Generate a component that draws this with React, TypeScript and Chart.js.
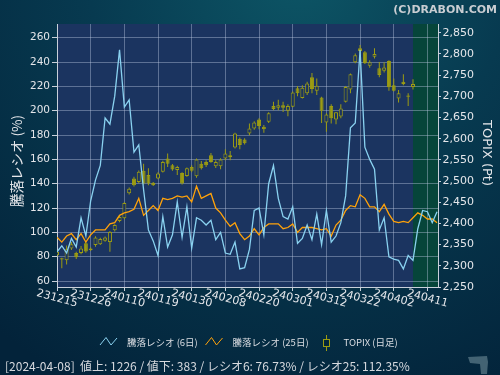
import React, { useEffect, useRef } from "react";
import { Chart, registerables } from "chart.js";

Chart.register(...registerables);

// ---- data ----
const tickDates = ["231215", "231226", "240110", "240119", "240130", "240208", "240220", "240301", "240312", "240322", "240402", "240411"];
const leftTicks = [60, 80, 100, 120, 140, 160, 180, 200, 220, 240, 260];
const rightTicks = [2250, 2300, 2350, 2400, 2450, 2500, 2550, 2600, 2650, 2700, 2750, 2800, 2850];

const ratio6 = [
  84, 89, 83, 95, 88, 112, 97, 126, 143, 155,
  194, 189, 212, 250, 203, 209, 166, 172, 135, 102,
  93, 81, 113, 88, 98, 125, 96, 121, 87, 112,
  110, 106, 110, 94, 100, 83, 82, 92, 70, 71,
  86, 118, 120, 98, 140, 155, 128, 113, 111, 121,
  91, 95, 106, 94, 115, 90, 118, 92, 97, 108,
  130, 186, 190, 250, 170, 160, 152, 102, 112, 80,
  78, 77, 70, 81, 77, 103, 118, 117, 108, 117,
];

const ratio25 = [
  96, 92, 97, 99, 94, 99, 92, 98, 102, 102,
  102, 107, 108, 114, 116, 117, 119, 128, 114, 118,
  122, 118, 128, 127, 128, 130, 129, 130, 125, 138,
  128, 130, 132, 120, 116, 110, 105, 108, 99, 94,
  97, 103, 98, 104, 107, 107, 107, 103, 104, 107,
  100, 104, 104, 104, 103, 102, 103, 97, 106, 110,
  118, 122, 121, 131, 128, 121, 121, 117, 123, 115,
  109, 108, 109, 108, 112, 116, 114, 111, 111, 108,
];

const topixOpen = [
  2325, 2318, 2313, 2341, 2330, 2330, 2353, 2341, 2349, 2351,
  2359, 2356, 2384, 2406, 2412, 2471, 2506, 2498, 2524, 2514,
  2496, 2506, 2522, 2553, 2537, 2526, 2519, 2512, 2533, 2511,
  2541, 2545, 2561, 2535, 2535, 2553, 2561, 2579, 2600, 2598,
  2612, 2624, 2645, 2628, 2640, 2677, 2673, 2679, 2666, 2675,
  2719, 2696, 2707, 2745, 2713, 2697, 2638, 2677, 2645, 2652,
  2687, 2716, 2780, 2813, 2804, 2772, 2793, 2766, 2760, 2783,
  2726, 2695, 2734, 2702, 2722,
];
const topixHigh = [
  2336, 2319, 2348, 2356, 2333, 2347, 2356, 2343, 2370, 2366,
  2369, 2382, 2398, 2418, 2450, 2485, 2510, 2525, 2541, 2530,
  2498, 2521, 2548, 2565, 2540, 2536, 2521, 2532, 2537, 2553,
  2547, 2549, 2566, 2549, 2554, 2575, 2571, 2614, 2603, 2601,
  2636, 2641, 2648, 2632, 2662, 2687, 2692, 2687, 2681, 2711,
  2724, 2726, 2734, 2755, 2742, 2699, 2660, 2681, 2663, 2681,
  2724, 2754, 2801, 2821, 2807, 2785, 2813, 2781, 2780, 2785,
  2742, 2715, 2752, 2707, 2740,
];
const topixLow = [
  2322, 2294, 2303, 2337, 2316, 2327, 2331, 2335, 2345, 2349,
  2357, 2333, 2381, 2403, 2410, 2468, 2487, 2495, 2492, 2490,
  2488, 2504, 2520, 2533, 2524, 2514, 2492, 2510, 2521, 2508,
  2527, 2533, 2543, 2531, 2528, 2549, 2549, 2577, 2575, 2586,
  2608, 2621, 2622, 2614, 2637, 2667, 2667, 2663, 2653, 2674,
  2700, 2695, 2703, 2707, 2703, 2637, 2616, 2636, 2634, 2648,
  2685, 2707, 2778, 2801, 2776, 2767, 2789, 2745, 2756, 2713,
  2711, 2685, 2726, 2677, 2716,
];
const topixClose = [
  2333, 2315, 2339, 2351, 2320, 2341, 2334, 2337, 2367, 2363,
  2367, 2380, 2396, 2415, 2448, 2482, 2490, 2522, 2494, 2494,
  2490, 2518, 2545, 2541, 2527, 2533, 2494, 2530, 2524, 2551,
  2530, 2537, 2545, 2545, 2551, 2565, 2556, 2612, 2585, 2589,
  2624, 2638, 2630, 2622, 2660, 2670, 2679, 2673, 2677, 2709,
  2707, 2720, 2730, 2717, 2725, 2666, 2657, 2648, 2662, 2671,
  2722, 2752, 2797, 2807, 2778, 2780, 2800, 2750, 2768, 2721,
  2713, 2707, 2729, 2699, 2729,
];

const lastDataIndex = 74;
const legendLabels = ["騰落レシオ (6日)", "騰落レシオ (25日)", "TOPIX (日足)"];
const leftTitle = "騰落レシオ (%)";
const rightTitle = "TOPIX (Pt)";
const footerText = "[2024-04-08]  値上: 1226 / 値下: 383 / レシオ6: 76.73% / レシオ25: 112.35%";
const copyright = "(C)DRABON.COM";

// ---- styles ----
const PLOT_BG = "#1b3460";
const FUTURE_BG = "#06453a";
const GRID = "rgba(185,198,225,0.42)";
const AXIS = "#c9d0da";
const TEXT = "#e4e6ea";
const CANDLE = "#9c9c12";
const CYAN = "#8ad2f0";
const ORANGE = "#ffa20a";
const CJK = '"Noto Sans CJK JP", "DejaVu Sans", sans-serif';

const decorPlugin = {
  id: "decor",
  beforeDraw(chart: any) {
    const { ctx, chartArea, width, height } = chart;
    ctx.save();
    const g = ctx.createRadialGradient(300, -30, 0, 300, -30, 470);
    g.addColorStop(0, "#0d5666");
    g.addColorStop(0.45, "#073a50");
    g.addColorStop(1, "#03233a");
    ctx.fillStyle = g;
    ctx.fillRect(0, 0, width, height);
    // small corner mark (bottom right)
    ctx.fillStyle = "rgba(120,150,160,0.55)";
    ctx.beginPath();
    ctx.moveTo(468, 357);
    ctx.lineTo(487, 356);
    ctx.lineTo(488, 362);
    ctx.lineTo(487, 374);
    ctx.lineTo(481, 374);
    ctx.lineTo(480, 364);
    ctx.lineTo(470, 363);
    ctx.closePath();
    ctx.fill();
    ctx.fillStyle = PLOT_BG;
    ctx.fillRect(chartArea.left, chartArea.top, chartArea.right - chartArea.left, chartArea.bottom - chartArea.top);
    const xs = chart.scales.x;
    const gx = xs.getPixelForValue(lastDataIndex);
    ctx.fillStyle = FUTURE_BG;
    ctx.fillRect(gx, chartArea.top, chartArea.right - gx, chartArea.bottom - chartArea.top);
    ctx.restore();
  },
  afterDraw(chart: any) {
    const { ctx } = chart;
    const xs = chart.scales.x;
    ctx.save();
    // x labels, rotated clockwise
    ctx.font = '11px "DejaVu Sans"';
    ctx.fillStyle = TEXT;
    ctx.textAlign = "center";
    ctx.textBaseline = "middle";
    tickDates.forEach((lab, k) => {
      const px = xs.getPixelForValue(k * 7);
      ctx.save();
      ctx.translate(px, 298.5);
      ctx.rotate((15 * Math.PI) / 180);
      ctx.fillText(lab, 0, 0);
      ctx.restore();
    });
    // axis titles
    ctx.font = `13.5px ${CJK}`;
    ctx.save();
    ctx.translate(17, 161);
    ctx.rotate(-Math.PI / 2);
    ctx.fillText(leftTitle, 0, 0);
    ctx.restore();
    ctx.font = '13px "DejaVu Sans"';
    ctx.save();
    ctx.translate(486.5, 153);
    ctx.rotate(Math.PI / 2);
    ctx.fillText(rightTitle, 0, 0);
    ctx.restore();
    // copyright
    ctx.font = 'bold 11px "DejaVu Sans"';
    ctx.fillStyle = "#c9cdd2";
    ctx.textAlign = "right";
    ctx.textBaseline = "alphabetic";
    ctx.fillText(copyright, 497, 12.5);
    // legend
    const zig = (x0: number, color: string) => {
      ctx.strokeStyle = color;
      ctx.lineWidth = 1;
      ctx.beginPath();
      ctx.moveTo(x0, 345);
      ctx.lineTo(x0 + 6, 337.5);
      ctx.lineTo(x0 + 11, 345);
      ctx.lineTo(x0 + 17, 338);
      ctx.stroke();
    };
    zig(100, CYAN);
    zig(205.5, ORANGE);
    ctx.strokeStyle = CANDLE;
    ctx.beginPath();
    ctx.moveTo(326.5, 335);
    ctx.lineTo(326.5, 351);
    ctx.stroke();
    ctx.fillStyle = "#03263b";
    ctx.fillRect(323.5, 339.5, 6, 7);
    ctx.strokeRect(323.5, 339.5, 6, 7);
    ctx.font = `9.5px ${CJK}`;
    ctx.fillStyle = "#dadde2";
    ctx.textAlign = "left";
    ctx.fillText(legendLabels[0], 127, 345.5);
    ctx.fillText(legendLabels[1], 232.5, 345.5);
    ctx.fillText(legendLabels[2], 343.5, 345.5);
    // footer
    ctx.font = `12px ${CJK}`;
    ctx.fillStyle = "#d6d9de";
    ctx.fillText(footerText, 5, 371);
    ctx.restore();
  },
};

const fixedTicks = (vals: number[]) => (scale: any) => {
  scale.ticks = vals.map((v) => ({ value: v }));
};

export default function App() {
  const ref = useRef<HTMLCanvasElement | null>(null);
  useEffect(() => {
    if (!ref.current) return;
    const chart = new Chart(ref.current, {
      type: "line",
      data: {
        datasets: [
          {
            type: "line",
            label: legendLabels[0],
            data: ratio6.map((v, i) => ({ x: i, y: v })),
            borderColor: CYAN,
            borderWidth: 1.3,
            pointRadius: 0,
            tension: 0,
            yAxisID: "y",
            order: 0,
          },
          {
            type: "line",
            label: legendLabels[1],
            data: ratio25.map((v, i) => ({ x: i, y: v })),
            borderColor: ORANGE,
            borderWidth: 1.3,
            pointRadius: 0,
            tension: 0,
            yAxisID: "y",
            order: 1,
          },
          {
            type: "bar",
            label: "wick",
            data: topixHigh.map((h, i) => ({ x: i, y: [topixLow[i], h] })),
            backgroundColor: CANDLE,
            borderWidth: 0,
            barThickness: 1,
            grouped: false,
            inflateAmount: 0,
            yAxisID: "y2",
            order: 3,
          },
          {
            type: "bar",
            label: legendLabels[2],
            data: topixOpen.map((o, i) => ({ x: i, y: [o, topixClose[i]] })),
            backgroundColor: topixOpen.map((o, i) => (topixClose[i] >= o ? PLOT_BG : CANDLE)),
            borderColor: CANDLE,
            borderWidth: 1,
            borderSkipped: false,
            barThickness: 4,
            grouped: false,
            inflateAmount: 0,
            yAxisID: "y2",
            order: 2,
          },
        ] as any,
      },
      options: {
        animation: false,
        responsive: false,
        events: [],
        layout: { padding: { top: 24, left: 0, right: 0, bottom: 0 } },
        plugins: { legend: { display: false }, tooltip: { enabled: false } },
        scales: {
          x: {
            type: "linear",
            min: 0,
            max: 79.2,
            offset: false,
            afterBuildTicks: fixedTicks(tickDates.map((_, k) => k * 7)),
            afterFit: (s: any) => {
              s.height = 88;
            },
            ticks: { display: false },
            grid: { color: GRID, tickColor: AXIS, tickLength: 4, offset: false },
            border: { color: AXIS },
          },
          y: {
            position: "left",
            min: 55.1,
            max: 271.3,
            afterBuildTicks: fixedTicks(leftTicks),
            afterFit: (s: any) => {
              s.width = 57;
            },
            ticks: { color: TEXT, font: { family: "DejaVu Sans", size: 10.5 }, padding: 2 },
            grid: { color: GRID, tickColor: AXIS, tickLength: 5 },
            border: { color: AXIS },
          },
          y2: {
            position: "right",
            min: 2250,
            max: 2870.5,
            afterBuildTicks: fixedTicks(rightTicks),
            afterFit: (s: any) => {
              s.width = 62;
            },
            ticks: {
              color: TEXT,
              font: { family: "DejaVu Sans", size: 11 },
              padding: 1.5,
              callback: (v: any) => Number(v).toLocaleString("en-US"),
            },
            grid: { drawOnChartArea: false, tickColor: AXIS, tickLength: 3 },
            border: { color: AXIS },
          },
        },
      } as any,
      plugins: [decorPlugin],
    });
    return () => chart.destroy();
  }, []);
  return (
    <div style={{ position: "fixed", left: 0, top: 0, width: 500, height: 375 }}>
      <canvas ref={ref} width={500} height={375} />
    </div>
  );
}
